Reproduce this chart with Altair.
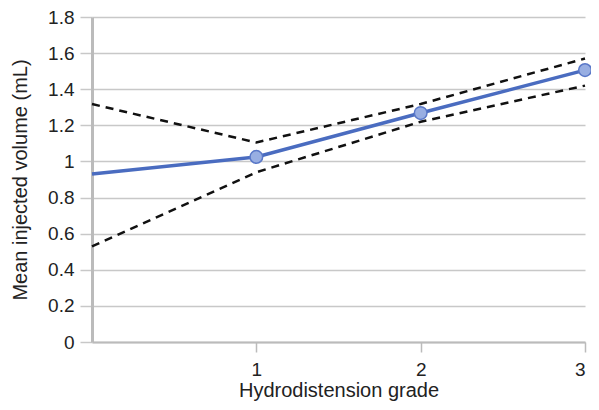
import altair as alt
import pandas as pd

grades = [0, 1, 2, 3]
mean_vol = [0.93, 1.025, 1.268, 1.506]
upper_ci = [1.318, 1.105, 1.318, 1.57]
lower_ci = [0.53, 0.94, 1.22, 1.42]
marker_grades = [1, 2, 3]

rows = []
for g, m, u, l in zip(grades, mean_vol, upper_ci, lower_ci):
    rows.append({"grade": g, "value": m, "series": "mean"})
    rows.append({"grade": g, "value": u, "series": "upper"})
    rows.append({"grade": g, "value": l, "series": "lower"})
df = pd.DataFrame(rows)
pts = pd.DataFrame({"grade": marker_grades,
                    "value": [mean_vol[grades.index(g)] for g in marker_grades]})

FONT = "Liberation Sans"
x = alt.X("grade:Q", scale=alt.Scale(domain=[0, 3], nice=False, zero=False),
          axis=alt.Axis(values=[1, 2, 3], title="Hydrodistension grade", grid=False,
                        domainColor="#bbbbbb", domainWidth=2, tickColor="#bbbbbb",
                        tickWidth=1.5, tickSize=10, labelPadding=8, labelFontSize=19,
                        labelColor="#222222", titleFontSize=20, titleColor="#222222",
                        titleFontWeight="normal", titlePadding=1, labelFont=FONT,
                        titleFont=FONT))
y = alt.Y("value:Q", scale=alt.Scale(domain=[0, 1.8], nice=False),
          axis=alt.Axis(values=[0, 0.2, 0.4, 0.6, 0.8, 1, 1.2, 1.4, 1.6, 1.8],
                        format="~g", title="Mean injected volume (mL)",
                        grid=True, gridColor="#c8c8c8", gridWidth=1.5,
                        domainColor="#bbbbbb", domainWidth=3, tickColor="#c8c8c8",
                        tickWidth=1.5, tickSize=12, labelPadding=6, labelFontSize=19,
                        labelColor="#222222", titleFontSize=20, titleColor="#222222",
                        titleFontWeight="normal", titlePadding=17, labelFont=FONT,
                        titleFont=FONT))

mean_line = alt.Chart(df[df.series == "mean"]).mark_line(
    color="#4a6cc0", strokeWidth=3.5).encode(x=x, y=y)
upper_line = alt.Chart(df[df.series == "upper"]).mark_line(
    color="#111111", strokeWidth=2.5, strokeDash=[8, 6]).encode(x=x, y=y)
lower_line = alt.Chart(df[df.series == "lower"]).mark_line(
    color="#111111", strokeWidth=2.5, strokeDash=[8, 6]).encode(x=x, y=y)
markers = alt.Chart(pts).mark_point(
    filled=True, fill="#98aee2", stroke="#5a78c8", strokeWidth=1.5,
    size=160, opacity=1, shape="circle").encode(x=x, y=y)

chart = alt.layer(upper_line, lower_line, mean_line, markers).properties(
    width=493, height=325,
    autosize=alt.AutoSizeParams(type="none"),
    padding={"left": 84, "top": 9, "right": 6, "bottom": 60},
).configure_view(stroke=None)

chart.save("out.html", embed_options={"renderer": "svg", "actions": False})
